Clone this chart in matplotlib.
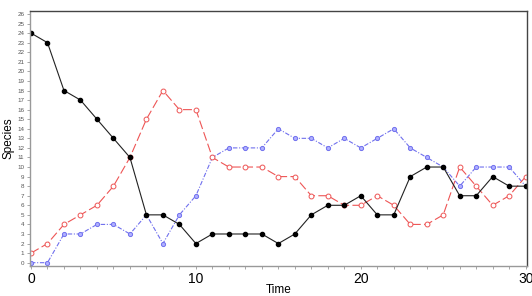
import matplotlib
matplotlib.use("Agg")
import matplotlib.pyplot as plt
from matplotlib.ticker import MultipleLocator

plt.rcParams['font.family'] = ['Liberation Sans', 'DejaVu Sans']

time = list(range(31))
black = [24, 23, 18, 17, 15, 13, 11, 5, 5, 4, 2, 3, 3, 3, 3, 2, 3, 5, 6, 6,
         7, 5, 5, 9, 10, 10, 7, 7, 9, 8, 8]
red = [1, 2, 4, 5, 6, 8, 11, 15, 18, 16, 16, 11, 10, 10, 10, 9, 9, 7, 7, 6,
       6, 7, 6, 4, 4, 5, 10, 8, 6, 7, 9]
blue = [0, 0, 3, 3, 4, 4, 3, 5, 2, 5, 7, 11, 12, 12, 12, 14, 13, 13, 12, 13,
        12, 13, 14, 12, 11, 10, 8, 10, 10, 10, 8]

fig = plt.figure(figsize=(5.32, 2.96), dpi=100)
ax = fig.add_axes([0.0564, 0.1014, 0.9342, 0.8614])

ax.plot(time, blue, color='#7070ee', lw=0.8, ls=(0, (4, 1.5, 1, 1.5)),
        marker='o', ms=3, mfc='#b0b0ff', mec='#7070ee', mew=0.7)
ax.plot(time, red, color='#ee5555', lw=0.8, ls=(0, (8, 3)),
        marker='o', ms=3.5, mfc='white', mec='#ee5555', mew=0.7)
ax.plot(time, black, color='#222222', lw=0.8, marker='o', ms=3,
        mfc='black', mec='black')

ax.set_xlim(-0.06, 30.08)
ax.set_ylim(-0.345, 26.31)
ax.xaxis.set_major_locator(MultipleLocator(10))
ax.xaxis.set_minor_locator(MultipleLocator(1))
ax.yaxis.set_major_locator(MultipleLocator(1))

for s in ax.spines.values():
    s.set_color('#444444')
    s.set_linewidth(1.0)
ax.spines['left'].set_color('#999999')
ax.spines['bottom'].set_color('#999999')

ax.tick_params(axis='y', labelsize=4.5, labelcolor='#555555', length=2,
               width=0.6, color='#999999', pad=2)
ax.tick_params(axis='x', which='major', labelsize=10, length=2, width=0.6,
               color='#999999', pad=2)
ax.tick_params(axis='x', which='minor', length=2, width=0.6, color='#999999')

ax.set_xlabel('Time', fontsize=8.5, labelpad=-1)
ax.set_ylabel('Species', fontsize=8.5, labelpad=2)

fig.savefig('out.png', dpi=100)
